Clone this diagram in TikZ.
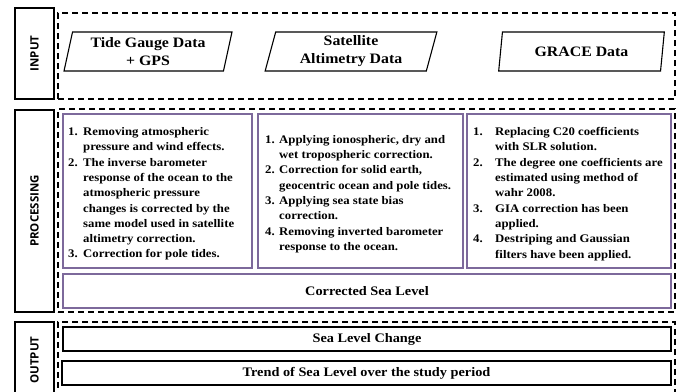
\documentclass[tikz,border=0pt]{standalone}
\usepackage{fontspec}
\setmainfont{Liberation Serif}[FakeStretch=1.1]
\newfontfamily\lblfont{Open Sans}
\usetikzlibrary{shapes.geometric}
\definecolor{pline}{RGB}{125,105,155}
\newcommand{\nm}[2]{\makebox[#1][l]{#2}}
\newcommand{\ind}[1]{\hspace*{#1}}
\tikzset{
 lbl/.style={draw=black, line width=1.1pt, minimum width=39pt, inner sep=0},
 dbox/.style={draw=black, dash pattern=on 6pt off 4pt, line width=1.3pt, inner sep=0},
 para/.style={trapezium, trapezium left angle=77, trapezium right angle=103, trapezium stretches=true, draw=black, line width=1.1pt, minimum height=39pt, align=center, font=\fontsize{14.4}{18}\selectfont\bfseries, inner sep=0},
 pbox/.style={draw=pline, line width=1.4pt, inner sep=0},
 obox/.style={draw=black, line width=1.5pt, inner sep=0, font=\fontsize{13}{15}\selectfont\bfseries},
 ltext/.style={rotate=90, font=\lblfont\bfseries\fontsize{11.5}{13}\selectfont},
 listtext/.style={anchor=west, align=left, inner sep=0, font=\fontsize{11.6}{15.3}\selectfont\bfseries},
}
\begin{document}
\begin{tikzpicture}[x=1pt,y=-1pt]
\fill[white] (0,0) rectangle (677,391);
\useasboundingbox (0,0) rectangle (677,391);

% INPUT
\node[lbl, minimum height=91pt] (inlbl) at (34.5,53.5) {};
\node[ltext] (inlbltxt) at (inlbl.center) {INPUT};
\node[dbox, minimum width=617pt, minimum height=86pt] (indash) at (366.5,56) {};
\node[para, minimum width=168pt] (tide) at (148,51.5) {Tide Gauge Data\\+ GPS};
\node[para, minimum width=172pt] (sat) at (351,51.5) {Satellite\\Altimetry Data};
\node[para, minimum width=167pt] (grace) at (581.5,51.5) {GRACE Data};

% PROCESSING
\node[lbl, minimum height=202pt] (prlbl) at (34.5,211) {};
\node[ltext] (prlbltxt) at (prlbl.center) {PROCESSING};
\node[dbox, minimum width=617pt, minimum height=203pt] (prdash) at (366.5,210.5) {};
\node[pbox, minimum width=189pt, minimum height=154pt] (p1) at (157.5,191) {};
\node[pbox, minimum width=205pt, minimum height=154pt] (p2) at (360.5,191) {};
\node[pbox, minimum width=204pt, minimum height=154pt] (p3) at (569,191) {};
\node[listtext] (t1) at (68,194) {\nm{15pt}{1.}Removing atmospheric\\
\ind{15pt}pressure and wind effects.\\
\nm{15pt}{2.}The inverse barometer\\
\ind{15pt}response of the ocean to the\\
\ind{15pt}atmospheric pressure\\
\ind{15pt}changes is corrected by the\\
\ind{15pt}same model used in satellite\\
\ind{15pt}altimetry correction.\\
\nm{15pt}{3.}Correction for pole tides.};
\node[listtext] (t2) at (265,194) {\nm{14pt}{1.}Applying ionospheric, dry and\\
\ind{14pt}wet tropospheric correction.\\
\nm{14pt}{2.}Correction for solid earth,\\
\ind{14pt}geocentric ocean and pole tides.\\
\nm{14pt}{3.}Applying sea state bias\\
\ind{14pt}correction.\\
\nm{14pt}{4.}Removing inverted barometer\\
\ind{14pt}response to the ocean.};
\node[listtext] (t3) at (473,194) {\nm{22pt}{1.}Replacing C20 coefficients\\
\ind{22pt}with SLR solution.\\
\nm{22pt}{2.}The degree one coefficients are\\
\ind{22pt}estimated using method of\\
\ind{22pt}wahr 2008.\\
\nm{22pt}{3.}GIA correction has been\\
\ind{22pt}applied.\\
\nm{22pt}{4.}Destriping and Gaussian\\
\ind{22pt}filters have been applied.};
\node[pbox, minimum width=608pt, minimum height=34pt, font=\fontsize{13}{15}\selectfont\bfseries] (corr) at (367,291) {Corrected Sea Level};

% OUTPUT
\node[lbl, minimum height=76pt] (outlbl) at (34.5,360) {};
\node[ltext] (outlbltxt) at (outlbl.center) {OUTPUT};
\node[dbox, minimum width=617pt, minimum height=76pt] (outdash) at (366.5,360) {};
\node[obox, minimum width=608pt, minimum height=24pt] (slc) at (367,339) {Sea Level Change};
\node[obox, minimum width=609pt, minimum height=24pt] (trend) at (366.5,373) {Trend of Sea Level over the study period};
\end{tikzpicture}
\end{document}
